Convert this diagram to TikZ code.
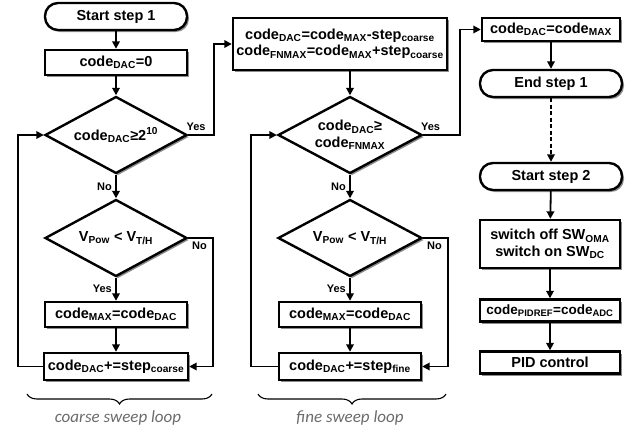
\documentclass[tikz,border=0pt]{standalone}
\usepackage{fontspec}
\setmainfont{Liberation Sans}
\newfontfamily\notefont{Carlito}
\usetikzlibrary {arrows.meta, positioning, shapes.geometric, shadows, decorations.pathreplacing}
\newcommand{\sbs}[1]{\textsubscript{#1}}
\newcommand{\sps}[1]{\textsuperscript{#1}}

\begin{document}
\begin{tikzpicture}[
    x=1pt, y=-1pt,
    ->,
    >={Triangle[length=7.5pt, width=7.5pt]},
    line width=1.8pt,
    font=\fontsize{14.5}{16.5}\selectfont\bfseries,
    shade/.style={drop shadow={shadow xshift=2pt, shadow yshift=-2pt, fill=black!45, opacity=1}},
    block/.style={draw, line width=2.4pt, fill=white, shade, minimum height=25pt, minimum width=142pt, inner sep=2pt, align=center},
    term/.style={block, rounded corners=13pt, minimum height=27pt},
    decision/.style={draw, diamond, aspect=1.85, line width=2.4pt, fill=white, shade, minimum width=142pt, minimum height=77pt, inner sep=0pt, align=center},
    lbl/.style={font=\fontsize{11}{12}\selectfont\bfseries},
    loopnote/.style={font=\fontsize{17}{19}\selectfont\notefont\itshape, text=black!58},
    brace/.style={-, decorate, decoration={brace, mirror, amplitude=10pt}, line width=1.1pt, draw=black},
]
    \useasboundingbox (0,0) rectangle (641,431);

    % coarse sweep
    \node[term ]                   (S1) at (116, 16.5) {Start step 1};
    \node[block]                   (C1) at (116, 62.5) {code\sbs{DAC}=0};
    \node[decision]                (D1) at (116,135)   {code\sbs{DAC}≥2\sps{10}};
    \node[decision]                (D2) at (116,238)   {V\sbs{Pow} < V\sbs{T/H}};
    \node[block]                   (M1) at (116,314.5) {code\sbs{MAX}=code\sbs{DAC}};
    \node[block, minimum height=27pt,
          minimum width=144pt]     (I1) at (116,366.5) {code\sbs{DAC}+=step\sbs{coarse}};

    % fine sweep
    \node[block, minimum width=214pt,
          minimum height=52pt]     (B2) at (340, 44)   {code\sbs{DAC}=code\sbs{MAX}-step\sbs{coarse}\\code\sbs{FNMAX}=code\sbs{MAX}+step\sbs{coarse}};
    \node[decision, minimum width=144pt] (D3) at (350,135) {code\sbs{DAC}≥\\code\sbs{FNMAX}};
    \node[decision, minimum width=144pt] (D4) at (350,238) {V\sbs{Pow} < V\sbs{T/H}};
    \node[block]                   (M2) at (350,314.5) {code\sbs{MAX}=code\sbs{DAC}};
    \node[block, minimum height=27pt] (I2) at (350,366.5) {code\sbs{DAC}+=step\sbs{fine}};

    % step 2
    \node[block, minimum width=138pt,
          minimum height=23pt]     (A3) at (551, 29.5) {code\sbs{DAC}=code\sbs{MAX}};
    \node[term ]                   (E1) at (551, 83.5) {End step 1};
    \node[term ]                   (S2) at (551,176.5) {Start step 2};
    \node[block, minimum width=140pt,
          minimum height=48pt]     (SW) at (550,244)   {switch off SW\sbs{OMA}\\switch on SW\sbs{DC}};
    \node[block, minimum width=140pt, minimum height=22pt,
          font=\fontsize{13.5}{15}\selectfont\bfseries] (PR) at (550,310.5) {code\sbs{PIDREF}=code\sbs{ADC}};
    \node[block, minimum width=140pt,
          minimum height=22pt]     (PC) at (550,362.5) {PID control};

    \path
        (S1) edge                                   (C1)
        (C1) edge                                   (D1)
        (D1) edge node[lbl, left] {No}              (D2)
        (D2) edge node[lbl, left] {Yes}             (M1)
        (M1) edge                                   (I1)
        (D3) edge node[lbl, left] {No}              (D4)
        (D4) edge node[lbl, left] {Yes}             (M2)
        (M2) edge                                   (I2)
        (A3) edge                                   (E1)
        (E1) edge [dash pattern=on 4pt off 2.5pt]   (S2)
        (S2) edge                                   (SW)
        (SW) edge                                   (PR)
        (PR) edge                                   (PC)
    ;

    \draw (D1.east) -- node[lbl, above, pos=0.3] {Yes} ++(26,0) |- (B2);
    \draw (D2.east) -- node[lbl, below, pos=0.45] {No} ++(25,0) |- (I1);
    \draw (I1.west) -- ++(-25,0) |- (D1.west);
    \draw (D3.north |- B2.south) -- (D3.north);
    \draw (D3.east) -- node[lbl, above, pos=0.2] {Yes} ++(37,0) |- (A3);
    \draw (D4.east) -- node[lbl, below, pos=0.45] {No} ++(25,0) |- (I2);
    \draw (I2.west) -- ++(-27,0) |- (D3.west);

    % loop braces
    \draw[brace] (27,394) -- (212,394);
    \draw[brace] (258,394) -- (446,394);
    \node[loopnote] (CL) at (118,418) {coarse sweep loop};
    \node[loopnote] (FL) at (350,418) {fine sweep loop};
\end{tikzpicture}
\end{document}
